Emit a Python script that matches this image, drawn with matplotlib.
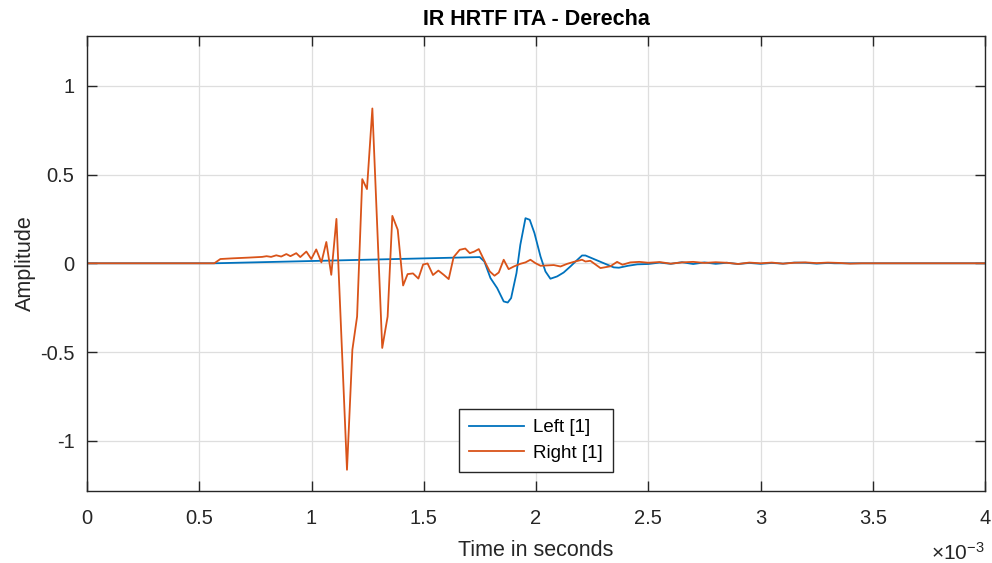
import matplotlib
matplotlib.use("Agg")
import matplotlib.pyplot as plt
from matplotlib.ticker import FuncFormatter
import numpy as np

plt.rcParams['font.family'] = ['Liberation Sans', 'DejaVu Sans']
plt.rcParams['mathtext.fontset'] = 'custom'
plt.rcParams['mathtext.rm'] = 'Liberation Sans'
plt.rcParams['mathtext.it'] = 'Liberation Sans:italic'

# Impulse response, left ear: time in ms, amplitude
left_t_ms = [0.0, 0.567, 1.749, 1.770, 1.797, 1.827, 1.856, 1.874, 1.889, 1.913,
             1.930, 1.953, 1.972, 1.993, 2.020, 2.042, 2.064, 2.094, 2.123, 2.153,
             2.176, 2.205, 2.220, 2.280, 2.346, 2.369, 2.410, 2.451, 2.50, 2.55,
             2.60, 2.65, 2.70, 2.75, 2.80, 2.85, 2.90, 2.95, 3.00, 3.05, 3.10,
             3.15, 3.20, 3.25, 3.30, 3.33, 4.0]
left_amp = [0.0, 0.0, 0.035, 0.010, -0.083, -0.140, -0.215, -0.221, -0.196, -0.055,
            0.104, 0.254, 0.245, 0.170, 0.038, -0.046, -0.087, -0.074, -0.052, -0.018,
            0.010, 0.044, 0.044, 0.012, -0.023, -0.025, -0.014, -0.006, -0.004, 0.004,
            -0.003, 0.006, -0.004, 0.005, -0.003, 0.003, -0.004, 0.002, -0.003, 0.002, -0.002,
            0.004, 0.003, -0.002, 0.002, 0.0, 0.0]

# Impulse response, right ear: time in ms, amplitude
right_t_ms = [0.0, 0.567, 0.594, 0.65, 0.72, 0.78, 0.80, 0.82, 0.843, 0.865,
              0.888, 0.906, 0.932, 0.950, 0.977, 0.999, 1.021, 1.044, 1.066, 1.088,
              1.111, 1.158, 1.182, 1.203, 1.226, 1.247, 1.271, 1.315, 1.339, 1.360,
              1.384, 1.408, 1.428, 1.452, 1.476, 1.497, 1.517, 1.541, 1.565, 1.589,
              1.611, 1.633, 1.660, 1.685, 1.705, 1.725, 1.745, 1.775, 1.794, 1.815,
              1.834, 1.856, 1.878, 1.901, 1.930, 1.953, 1.975, 1.997, 2.020, 2.050,
              2.079, 2.109, 2.139, 2.168, 2.205, 2.220, 2.242, 2.287, 2.331, 2.361,
              2.385, 2.42, 2.46, 2.50, 2.55, 2.60, 2.65, 2.70, 2.75, 2.80,
              2.85, 2.90, 2.95, 3.00, 3.05, 3.10, 3.15, 3.20, 3.25, 3.30,
              3.35, 3.40, 3.45, 4.0]
right_amp = [0.0, 0.0, 0.024, 0.028, 0.032, 0.036, 0.040, 0.036, 0.045, 0.038,
             0.052, 0.040, 0.057, 0.035, 0.066, 0.024, 0.078, 0.005, 0.120, -0.065,
             0.250, -1.163, -0.487, -0.300, 0.474, 0.418, 0.872, -0.477, -0.300, 0.267,
             0.189, -0.125, -0.061, -0.057, -0.086, -0.007, -0.001, -0.066, -0.041, -0.065,
             -0.089, 0.035, 0.076, 0.083, 0.057, 0.066, 0.080, 0.001, -0.046, -0.070,
             -0.052, 0.020, -0.033, -0.018, -0.003, 0.005, 0.020, 0.001, -0.014, -0.012,
             -0.010, -0.018, -0.003, 0.008, 0.020, 0.010, 0.014, -0.027, -0.017, 0.008,
             -0.008, 0.005, 0.008, 0.003, 0.007, -0.002, 0.005, 0.008, 0.002, 0.006,
             0.003, -0.004, 0.004, 0.000, 0.004, -0.002, 0.003, 0.005, 0.001, 0.004,
             0.002, -0.002, 0.0, 0.0]

x_ticks_ms = [0, 0.5, 1, 1.5, 2, 2.5, 3, 3.5, 4]
y_ticks = [-1, -0.5, 0, 0.5, 1]

BLUE = '#0072BD'
ORANGE = '#D95319'
AX_COLOR = '#262626'

fig = plt.figure(figsize=(9.92, 5.63), dpi=100)
ax = fig.add_axes([0.0877, 0.1287, 0.9053, 0.8073])

ax.plot(np.array(left_t_ms) * 1e-3, left_amp, color=BLUE, lw=1.3, label='Left [1]')
ax.plot(np.array(right_t_ms) * 1e-3, right_amp, color=ORANGE, lw=1.3, label='Right [1]')

ax.set_xlim(0, 4e-3)
ax.set_ylim(-1.28, 1.28)
ax.set_xticks(np.array(x_ticks_ms) * 1e-3)
ax.set_yticks(y_ticks)
ax.xaxis.set_major_formatter(FuncFormatter(lambda v, p: f"{v * 1e3:g}"))
ax.yaxis.set_major_formatter(FuncFormatter(lambda v, p: f"{v:g}"))

ax.grid(True, color='#dedede', lw=0.9)
ax.set_axisbelow(True)
for s in ax.spines.values():
    s.set_color(AX_COLOR)
    s.set_linewidth(1.0)
ax.tick_params(direction='in', length=7, width=1.0, colors=AX_COLOR,
               labelsize=14.5, top=True, right=True)
ax.tick_params(axis='x', pad=13)
ax.tick_params(axis='y', pad=9)

ax.set_title('IR HRTF ITA - Derecha', fontsize=15.5, fontweight='bold',
             color='black', pad=8)
ax.set_xlabel('Time in seconds', fontsize=15.5, color=AX_COLOR, labelpad=9)
ax.set_ylabel('Amplitude', fontsize=15.5, color=AX_COLOR, labelpad=3)

ax.text(1.0, -0.112, r'$\times10^{-3}$', transform=ax.transAxes, ha='right',
        va='top', fontsize=15, color=AX_COLOR)

leg = ax.legend(loc='lower center', bbox_to_anchor=(0.5, 0.02), fontsize=13.5,
                frameon=True, fancybox=False, framealpha=1, edgecolor=AX_COLOR,
                handlelength=2.9, handletextpad=0.5, borderpad=0.55,
                labelspacing=0.45)
leg.get_frame().set_linewidth(1.0)
for t in leg.get_texts():
    t.set_color('black')

fig.savefig('out.png', dpi=100)
